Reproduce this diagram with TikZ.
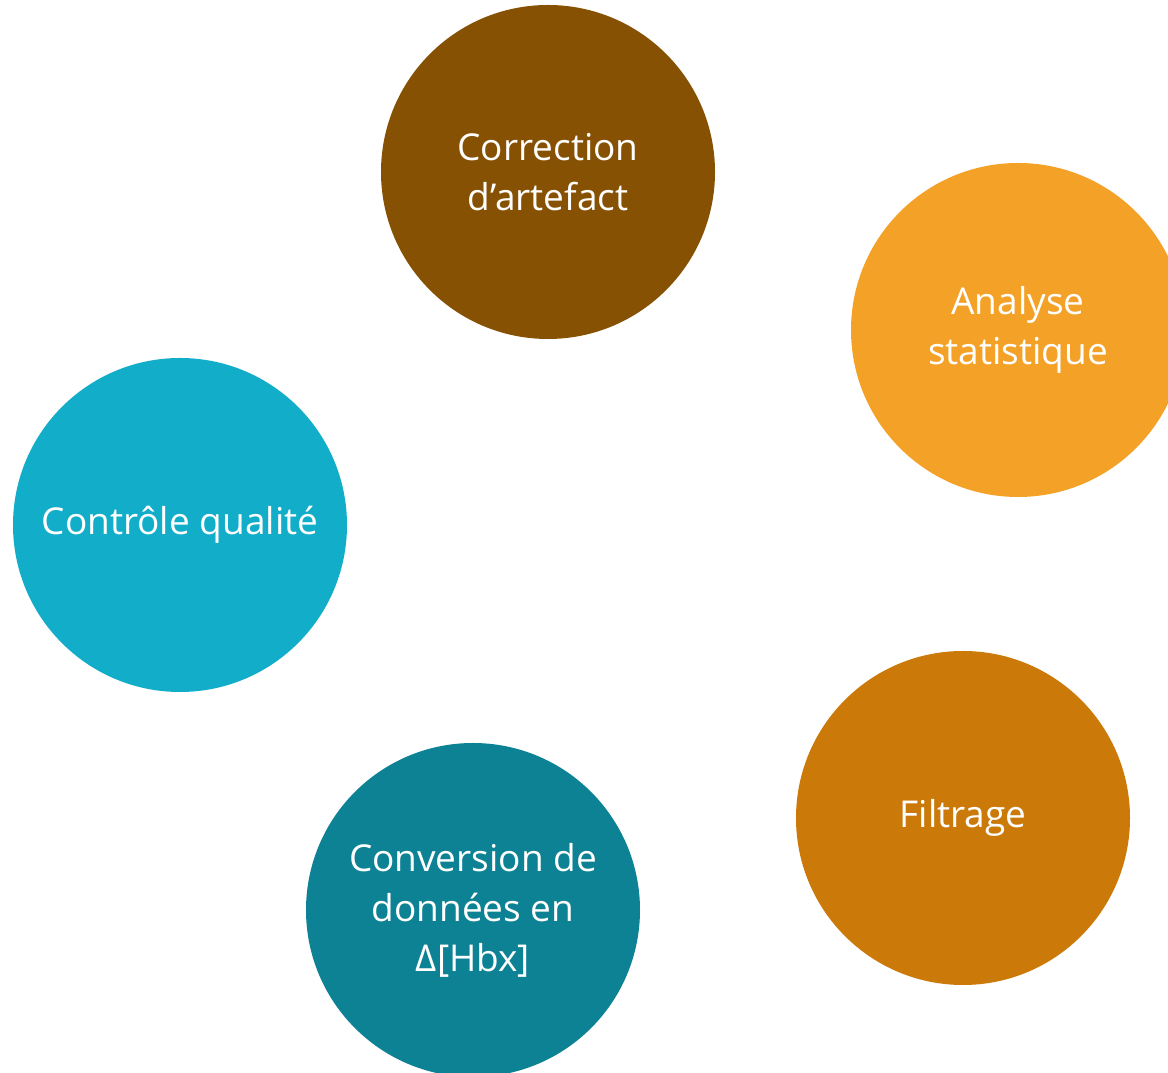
\documentclass[tikz,border=0pt]{standalone}
\usepackage{fontspec}
\setmainfont{Open Sans}
\definecolor{cbrown}{HTML}{875104}
\definecolor{corange}{HTML}{F4A128}
\definecolor{ccyan}{HTML}{12ADC8}
\definecolor{cteal}{HTML}{0E8295}
\definecolor{cdorange}{HTML}{CB7909}
\begin{document}
\begin{tikzpicture}[x=1pt,y=1pt,
  bubble/.style={circle,minimum size=334pt,inner sep=0pt,text=white,align=center,
    font=\fontsize{37}{50}\selectfont}]
\useasboundingbox (0,0) rectangle (1168,1073);
\begin{scope}
\clip (0,0) rectangle (1168,1073);
\node[bubble,fill=cbrown] (corr) at (548,901) {Correction\\d’artefact};
\node[bubble,fill=corange] (anal) at (1018,743) {Analyse\\statistique};
\node[bubble,fill=ccyan] (ctrl) at (180,548) {Contrôle qualité};
\node[bubble,fill=cteal] (conv) at (473,163) {Conversion de\\données en\\Δ[Hbx]};
\node[bubble,fill=cdorange] (filt) at (963,255) {Filtrage};
\end{scope}
\end{tikzpicture}
\end{document}
